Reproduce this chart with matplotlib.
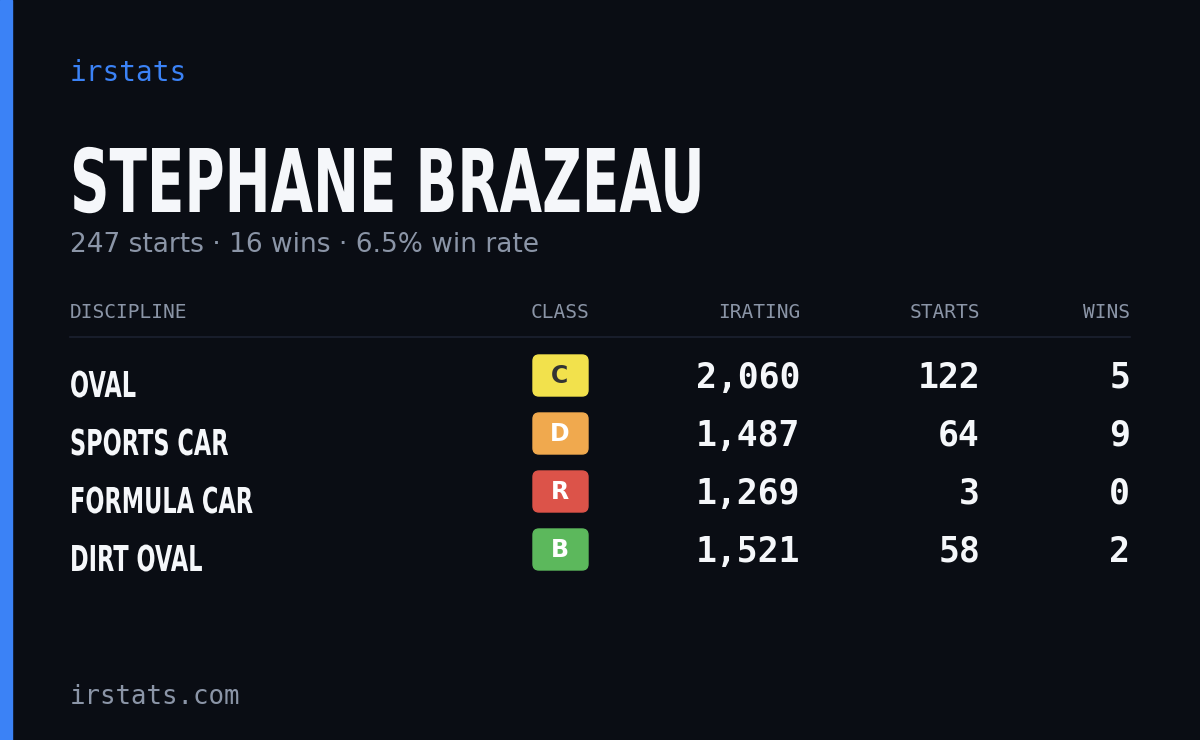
import matplotlib.pyplot as plt
from matplotlib.patches import FancyBboxPatch, Rectangle, PathPatch
from matplotlib.textpath import TextPath
from matplotlib.font_manager import FontProperties
from matplotlib.transforms import Affine2D

name = "STEPHANE BRAZEAU"
summary = "247 starts · 16 wins · 6.5% win rate"
headers = ["DISCIPLINE", "CLASS", "IRATING", "STARTS", "WINS"]
disciplines = ["OVAL", "SPORTS CAR", "FORMULA CAR", "DIRT OVAL"]
classes = ["C", "D", "R", "B"]
iratings = [2060, 1487, 1269, 1521]
starts = [122, 64, 3, 58]
wins = [5, 9, 0, 2]

class_colors = {"C": "#f2e14c", "D": "#f0a94e", "R": "#dc5349", "B": "#5cb85c"}
bg = "#0a0d14"
gray = "#8b95a7"
white = "#f5f7fa"
mono = "DejaVu Sans Mono"
boldprop = FontProperties(family="DejaVu Sans", weight="bold")

fig = plt.figure(figsize=(12, 7.4), dpi=100, facecolor=bg)
ax = fig.add_axes([0, 0, 1, 1])
ax.set_xlim(0, 1200)
ax.set_ylim(740, 0)
ax.axis("off")


def cond_text(x, base, s, cap_h, sx):
    # condensed bold text: squeeze a text path horizontally
    tp = TextPath((0, 0), s, size=1, prop=boldprop)
    k = cap_h / 0.729
    tr = Affine2D().scale(k * sx, -k).translate(x, base)
    ax.add_patch(PathPatch(tr.transform_path(tp), color=white, lw=0))


ax.add_patch(Rectangle((0, 0), 12, 740, color="#3b82f6"))

ax.text(70, 73, "irstats", color="#3b82f6", fontsize=20, family=mono, va="center")
cond_text(70, 212, name, 64, 0.625)
ax.text(70, 245, summary, color=gray, fontsize=19, va="center")

hx = [70, 560, 800, 980, 1130]
ha = ["left", "center", "right", "right", "right"]
for h, x, a in zip(headers, hx, ha):
    ax.text(x, 313, h, color=gray, fontsize=14, family=mono, ha=a, va="center")
ax.plot([70, 1130], [337, 337], color="#1c2130", lw=1.2)

for i in range(len(disciplines)):
    y = 378 + 58 * i
    cond_text(70, y + 19, disciplines[i], 26, 0.63)
    c = classes[i]
    ax.add_patch(FancyBboxPatch((535, y - 21), 51, 37, boxstyle="round,pad=2,rounding_size=6",
                                color=class_colors[c]))
    ax.text(560, y - 2, c, color="#333333" if c == "C" else "white", fontsize=17,
            weight="bold", ha="center", va="center")
    ax.text(800, y, f"{iratings[i]:,}", color=white, fontsize=25, family=mono,
            weight="bold", ha="right", va="center")
    ax.text(980, y, str(starts[i]), color=white, fontsize=25, family=mono,
            weight="bold", ha="right", va="center")
    ax.text(1130, y, str(wins[i]), color=white, fontsize=25, family=mono,
            weight="bold", ha="right", va="center")

ax.text(70, 697, "irstats.com", color=gray, fontsize=18.5, family=mono, va="center")

fig.savefig("out.png", dpi=100, facecolor=bg)
